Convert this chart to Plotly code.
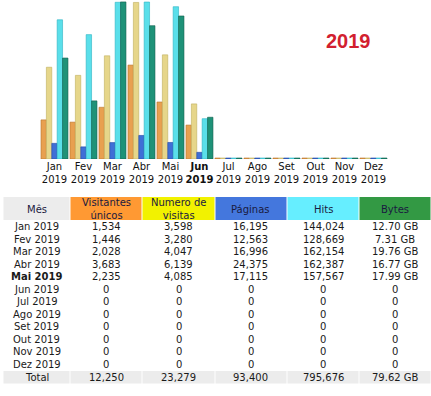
import plotly.graph_objects as go

W, H = 431, 396

# ---- data ----
months = ["Jan", "Fev", "Mar", "Abr", "Mai", "Jun", "Jul", "Ago", "Set", "Out", "Nov", "Dez"]
year = "2019"

# bar chart values (Jun is a partial month shown in the chart)
bar_visitors = [1534, 1446, 2028, 3683, 2235, 1330, 0, 0, 0, 0, 0, 0]
bar_visits = [3598, 3280, 4047, 6139, 4085, 2160, 0, 0, 0, 0, 0, 0]
bar_pages = [16195, 12563, 16996, 24375, 17115, 6900, 0, 0, 0, 0, 0, 0]
bar_hits = [144024, 128669, 162154, 162387, 157567, 41700, 0, 0, 0, 0, 0, 0]
bar_bytes_gb = [12.70, 7.31, 19.76, 16.77, 17.99, 5.25, 0, 0, 0, 0, 0, 0]

# table values
tbl_visitors = ["1,534", "1,446", "2,028", "3,683", "2,235", "0", "0", "0", "0", "0", "0", "0"]
tbl_visits = ["3,598", "3,280", "4,047", "6,139", "4,085", "0", "0", "0", "0", "0", "0", "0"]
tbl_pages = ["16,195", "12,563", "16,996", "24,375", "17,115", "0", "0", "0", "0", "0", "0", "0"]
tbl_hits = ["144,024", "128,669", "162,154", "162,387", "157,567", "0", "0", "0", "0", "0", "0", "0"]
tbl_bytes = ["12.70 GB", "7.31 GB", "19.76 GB", "16.77 GB", "17.99 GB", "0", "0", "0", "0", "0", "0", "0"]
tbl_total = ["Total", "12,250", "23,279", "93,400", "795,676", "79.62 GB"]
headers = ["Mês", "Visitantes<br>únicos", "Numero de<br>visitas", "Páginas", "Hits", "Bytes"]
current_month = "Mai"
chart_current = "Jun"

# ---- styling ----
FONT = "DejaVu Sans"
series = [
    (bar_visitors, "y", "#E8A050", "#B8732E"),
    (bar_visits, "y", "#E6D68A", "#BFAE5C"),
    (bar_pages, "y2", "#3F6FD6", "#2448A8"),
    (bar_hits, "y2", "#5ADFEA", "#2BB3C2"),
    (bar_bytes_gb, "y3", "#1E9278", "#0E5E4C"),
]
ranges = {"y": 6235, "y2": 164500, "y3": 20.0}

chart_px = 159  # plot area height in px (baseline)
bw = 0.186
x = list(range(len(months)))

fig = go.Figure()
for k, (vals, ax, col, edge) in enumerate(series):
    rng = ranges[ax]
    ys = [v if v > 0 else rng / chart_px for v in vals]
    fig.add_bar(
        x=x, y=ys, yaxis=ax, width=bw, offset=-0.466 + k * bw,
        marker=dict(color=col, line=dict(color=edge, width=0.6)),
        showlegend=False, hoverinfo="skip",
    )

ticktext = []
for m in months:
    t = f"{m}<br>{year}"
    if m == chart_current:
        t = f"<b>{t}</b>"
    ticktext.append(t)

ydom = [1 - chart_px / H, 1]
fig.update_layout(
    width=W, height=H,
    margin=dict(l=0, r=0, t=0, b=0),
    paper_bgcolor="white", plot_bgcolor="rgba(0,0,0,0)",
    barmode="overlay",
    xaxis=dict(range=[-54.5 / 29, (W - 54.5) / 29], tickvals=x, ticktext=ticktext,
               showgrid=False, zeroline=False, showline=False, ticks="",
               tickfont=dict(family=FONT, size=10, color="#111"), fixedrange=True),
    yaxis=dict(domain=ydom, range=[0, ranges["y"]], visible=False),
    yaxis2=dict(domain=ydom, range=[0, ranges["y2"]], visible=False, overlaying="y"),
    yaxis3=dict(domain=ydom, range=[0, ranges["y3"]], visible=False, overlaying="y"),
)

fig.add_annotation(text="<b>2019</b>", x=348 / W, y=1 - 41.5 / H, xref="paper", yref="paper",
                   xanchor="center", yanchor="middle",
                   showarrow=False, font=dict(family="Liberation Sans", size=20, color="#D2202F"))

# ---- table (drawn with shapes + annotations in paper coordinates) ----
col_edges = [3, 70, 142, 215, 287, 359, W]
header_top, header_bot = 197, 220
row_h = 12.5
header_fill = ["#ECECEC", "#FF9933", "#F2F200", "#4477DD", "#66EEFF", "#339944"]
total_fill = "#ECECEC"

month_col = []
for m in months:
    t = f"{m} {year}"
    if m == current_month:
        t = f"<b>{t}</b>"
    month_col.append(t)
cols = [month_col, tbl_visitors, tbl_visits, tbl_pages, tbl_hits, tbl_bytes]


def px(xp):
    return xp / W


def py(yp):
    return 1 - yp / H


shapes = []
annos = []


def txt(text, xc, yc, color="#1A1A1A"):
    annos.append(dict(text=text, x=px(xc), y=py(yc), xref="paper", yref="paper",
                      xanchor="center", yanchor="middle", showarrow=False,
                      font=dict(family=FONT, size=10, color=color)))


for i in range(len(cols)):
    x0, x1 = col_edges[i] + 0.5, col_edges[i + 1] - 0.5
    xc = (col_edges[i] + col_edges[i + 1]) / 2
    # header cell
    shapes.append(dict(type="rect", xref="paper", yref="paper", x0=px(x0), x1=px(x1),
                       y0=py(header_bot), y1=py(header_top), fillcolor=header_fill[i],
                       line=dict(width=0), layer="below"))
    txt(headers[i], xc, (header_top + header_bot) / 2 + 0.5, "#1A1A40")
    # data rows
    for j, v in enumerate(cols[i]):
        txt(v, xc, header_bot + row_h * j + row_h / 2 + 0.5)
    # total row
    ttop = header_bot + row_h * len(months) + 1
    tbot = ttop + row_h
    shapes.append(dict(type="rect", xref="paper", yref="paper", x0=px(x0), x1=px(x1),
                       y0=py(tbot), y1=py(ttop), fillcolor=total_fill,
                       line=dict(width=0), layer="below"))
    txt(tbl_total[i], xc, (ttop + tbot) / 2)

fig.update_layout(shapes=shapes)
for a in annos:
    fig.add_annotation(**a)

fig.write_html("out.html", config={"displayModeBar": False},
               post_script="document.body.style.margin='0';")
